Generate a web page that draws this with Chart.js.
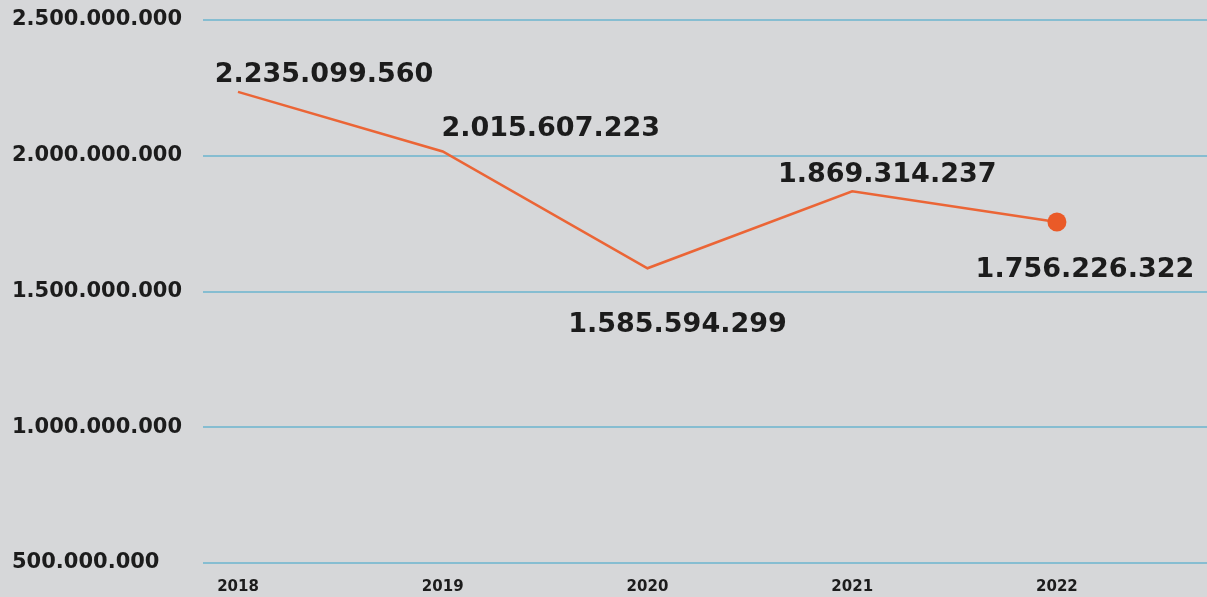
<!DOCTYPE html>
<html>
<head>
<meta charset="utf-8">
<script src="https://cdn.jsdelivr.net/npm/chart.js@4"></script>
<style>
    body { margin: 0; background: #d6d7d9; }
    #area_grafico { width: 1207px; height: 597px; }
</style>
</head>
<body>
<div id="area_grafico"><canvas id="grafico"></canvas></div>
<script>
// dados
var anos = [2018, 2019, 2020, 2021, 2022];
var valores = [2235099560, 2015607223, 1585594299, 1869314237, 1756226322];
var ticksY = [500000000, 1000000000, 1500000000, 2000000000, 2500000000];

// deslocamento dos rótulos em relação ao ponto (x, y)
var deslocRotulos = [[86, -17], [108, -23], [30, 57], [35, -16], [28, 48]];

function formatar(n) {
    return String(n).replace(/\B(?=(\d{3})+(?!\d))/g, '.');
}

var rotulos = {
    id: 'rotulos',
    afterDatasetsDraw: function (chart) {
        var ctx = chart.ctx;
        var pontos = chart.getDatasetMeta(0).data;
        ctx.save();
        ctx.font = 'bold 27px "DejaVu Sans"';
        ctx.fillStyle = '#1c1c1c';
        ctx.textAlign = 'center';
        ctx.textBaseline = 'middle';
        for (var i = 0; i < pontos.length; i++) {
            ctx.fillText(formatar(valores[i]), pontos[i].x + deslocRotulos[i][0], pontos[i].y + deslocRotulos[i][1]);
        }
        ctx.restore();
    }
};

var data = {
    datasets: [{
        data: anos.map(function (a, i) { return { x: a, y: valores[i] }; }),
        borderColor: '#eb6536',
        backgroundColor: '#ea5a28',
        borderWidth: 2.5,
        tension: 0,
        pointRadius: function (c) { return c.dataIndex === anos.length - 1 ? 9.5 : 0; },
        pointBorderWidth: 0
    }]
};

var config = {
    type: 'line',
    data: data,
    plugins: [rotulos],
    options: {
        responsive: true,
        maintainAspectRatio: false,
        animation: false,
        layout: { autoPadding: false, padding: { top: 20, left: 12, right: 0, bottom: 0 } },
        plugins: { legend: { display: false }, tooltip: { enabled: false } },
        scales: {
            x: {
                type: 'linear',
                min: 2017.829,
                max: 2022.733,
                afterBuildTicks: function (s) { s.ticks = anos.map(function (a) { return { value: a }; }); },
                afterFit: function (s) { s.height = 34; },
                grid: { display: false, drawTicks: false },
                border: { display: false },
                ticks: {
                    padding: 15,
                    color: '#1c1c1c',
                    font: { family: 'DejaVu Sans', weight: 'bold', size: 15 },
                    callback: function (v) { return String(v); }
                }
            },
            y: {
                min: 500000000,
                max: 2500000000,
                afterBuildTicks: function (s) { s.ticks = ticksY.map(function (v) { return { value: v }; }); },
                afterFit: function (s) { s.width = 191; },
                grid: { color: '#86bdd1', lineWidth: 2, drawTicks: false },
                border: { display: false },
                ticks: {
                    crossAlign: 'far',
                    color: '#1c1c1c',
                    font: { family: 'DejaVu Sans', weight: 'bold', size: 21 },
                    callback: function (v) { return formatar(v); }
                }
            }
        }
    }
};

window.grafico = new Chart(document.getElementById('grafico'), config);
</script>
</body>
</html>
